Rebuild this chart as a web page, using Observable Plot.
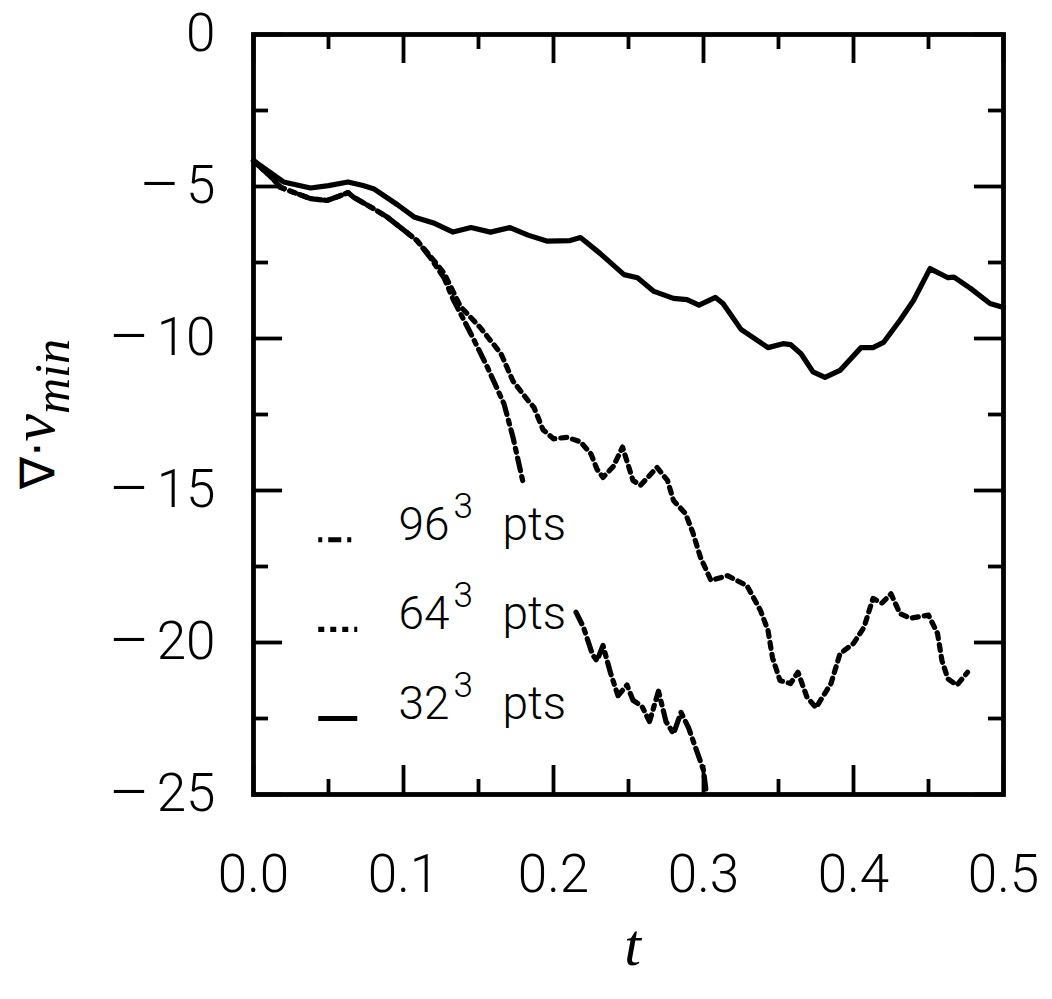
<!DOCTYPE html>
<html>
<head>
<meta charset="utf-8">
<script src="https://cdn.jsdelivr.net/npm/d3@7"></script>
<script src="https://cdn.jsdelivr.net/npm/@observablehq/plot@0.6"></script>
<style>
  html, body { margin: 0; padding: 0; background: #fff; }
  #chart svg { display: block; }
</style>
</head>
<body>
<div id="chart"></div>
<script>
// ---------- data ----------
// 32^3 pts (solid)
const t32 = [0.000, 0.020, 0.038, 0.050, 0.063, 0.073, 0.080, 0.096, 0.107, 0.120, 0.133, 0.145, 0.158, 0.171, 0.183, 0.196, 0.211, 0.218, 0.231, 0.247, 0.256, 0.267, 0.280, 0.289, 0.297, 0.308, 0.313, 0.325, 0.343, 0.353, 0.358, 0.365, 0.373, 0.381, 0.391, 0.405, 0.413, 0.420, 0.431, 0.440, 0.451, 0.463, 0.467, 0.478, 0.491, 0.500];
const v32 = [-4.15, -4.85, -5.05, -4.97, -4.85, -4.97, -5.07, -5.6, -6.0, -6.2, -6.5, -6.35, -6.5, -6.35, -6.6, -6.8, -6.78, -6.68, -7.2, -7.9, -8.0, -8.45, -8.68, -8.72, -8.9, -8.65, -8.85, -9.7, -10.3, -10.17, -10.2, -10.5, -11.1, -11.28, -11.05, -10.3, -10.3, -10.13, -9.4, -8.75, -7.7, -8.0, -7.98, -8.35, -8.85, -8.98];

// 64^3 pts (dotted)
const t64 = [0.000, 0.013, 0.018, 0.025, 0.038, 0.049, 0.058, 0.063, 0.067, 0.080, 0.089, 0.098, 0.109, 0.118, 0.127, 0.138, 0.151, 0.165, 0.173, 0.183, 0.187, 0.193, 0.200, 0.209, 0.218, 0.225, 0.229, 0.233, 0.240, 0.246, 0.253, 0.258, 0.269, 0.276, 0.280, 0.288, 0.293, 0.298, 0.305, 0.316, 0.329, 0.338, 0.343, 0.346, 0.351, 0.358, 0.363, 0.369, 0.375, 0.385, 0.391, 0.400, 0.407, 0.413, 0.419, 0.425, 0.431, 0.438, 0.450, 0.456, 0.459, 0.463, 0.469, 0.476];
const v64 = [-4.15, -4.75, -5.03, -5.16, -5.4, -5.46, -5.3, -5.2, -5.36, -5.73, -6.0, -6.35, -6.78, -7.3, -7.85, -8.95, -9.63, -10.5, -11.4, -12.04, -12.27, -13.0, -13.3, -13.25, -13.4, -13.8, -14.3, -14.57, -14.2, -13.57, -14.67, -14.83, -14.24, -14.67, -15.33, -15.76, -16.4, -17.2, -17.96, -17.8, -18.13, -18.95, -19.6, -20.5, -21.25, -21.35, -20.98, -21.8, -22.14, -21.35, -20.37, -20.03, -19.5, -18.55, -18.7, -18.4, -19.05, -19.2, -19.1, -19.7, -20.6, -21.2, -21.4, -20.98];

// 96^3 pts (dash-dot), two pieces with a gap between them
const t96a = [0.000, 0.013, 0.018, 0.025, 0.038, 0.049, 0.058, 0.063, 0.067, 0.080, 0.089, 0.098, 0.109, 0.118, 0.127, 0.133, 0.145, 0.156, 0.167, 0.173, 0.180];
const v96a = [-4.15, -4.75, -5.03, -5.16, -5.4, -5.46, -5.3, -5.2, -5.36, -5.73, -6.0, -6.35, -6.78, -7.35, -8.0, -8.7, -9.85, -10.95, -12.15, -13.25, -14.8];
const t96b = [0.215, 0.220, 0.226, 0.229, 0.233, 0.238, 0.243, 0.249, 0.253, 0.259, 0.264, 0.270, 0.275, 0.280, 0.285, 0.290, 0.295, 0.300, 0.302];
const v96b = [-19.0, -19.5, -20.4, -20.6, -20.1, -21.0, -21.75, -21.4, -21.9, -22.1, -22.6, -21.6, -22.6, -23.0, -22.3, -22.8, -23.5, -24.2, -25.0];

// ticks and labels
const xMajor = [0, 0.1, 0.2, 0.3, 0.4, 0.5];
const xMinor = [0.05, 0.15, 0.25, 0.35, 0.45];
const xTickLabels = ["0.0", "0.1", "0.2", "0.3", "0.4", "0.5"];
const yMajor = [0, -5, -10, -15, -20, -25];
const yMinor = [-2.5, -7.5, -12.5, -17.5, -22.5];
const yTickDigits = ["0", "5", "10", "15", "20", "25"];
const yTickSigns = ["", "\u2013", "\u2013", "\u2013", "\u2013", "\u2013"];
const legendNames = ["96", "64", "32"];
const legendSup = ["3", "3", "3"];
const legendUnit = ["pts", "pts", "pts"];

// ---------- build tables ----------
const d32 = t32.map((t, i) => ({t, v: v32[i]}));
const d64 = t64.map((t, i) => ({t, v: v64[i]}));
const d96 = [
  ...t96a.map((t, i) => ({t, v: v96a[i], seg: "a"})),
  ...t96b.map((t, i) => ({t, v: v96b[i], seg: "b"}))
];
const yLabelRows = yMajor.map((v, i) => ({v, digits: yTickDigits[i], sign: yTickSigns[i]}));

// ---------- layout ----------
const W = 1052, H = 999;
const mL = 253, mR = 49, mT = 34, mB = 205;
const plotW = W - mL - mR, plotH = H - mT - mB;
const majorLen = 29, minorLen = 15;
const FONT = "Roboto, 'Liberation Sans', sans-serif";
const digitW = 30.5;

const dash96 = "13,6,4,6";
const dash64 = "6,6";

// legend rows (vertical positions in data units, x in data units)
const legendY = [-16.62, -19.57, -22.5];
const legendStyles = [dash96, dash64, null];
const legendOffsets = [19, 0, 0];
const legX1 = 0.0435, legX2 = 0.0695, legTextX = 0.0967;
const legendRows = legendNames.map((n, i) => ({n, s: legendSup[i], u: legendUnit[i], y: legendY[i], dash: legendStyles[i], off: legendOffsets[i]}));

const SW = 5.2;
const lineOpts = {x: "t", y: "v", stroke: "#000", strokeWidth: SW, strokeLinejoin: "round"};

const plot = Plot.plot({
  width: W, height: H,
  marginLeft: mL, marginRight: mR, marginTop: mT, marginBottom: mB,
  style: {fontFamily: FONT, fontWeight: 300, background: "#fff", color: "#000"},
  x: {domain: [0, 0.5], axis: null},
  y: {domain: [-25, 0], axis: null},
  marks: [
    // curves
    Plot.line(d32, {...lineOpts}),
    Plot.line(d64, {...lineOpts, strokeDasharray: dash64}),
    Plot.line(d96, {...lineOpts, z: "seg", strokeDasharray: dash96}),
    // legend samples
    ...legendRows.map(r => Plot.ruleY([r.y], {x1: legX1, x2: legX2, stroke: "#000", strokeWidth: SW, strokeDasharray: r.dash || null, strokeDashoffset: r.off})),
    Plot.text(legendRows, {x: () => legTextX, y: "y", text: "n", textAnchor: "start", lineAnchor: "bottom", fontSize: 46, fontWeight: 300}),
    Plot.text(legendRows, {x: () => legTextX, y: "y", text: "s", textAnchor: "start", lineAnchor: "bottom", dx: 55, dy: -22, fontSize: 35, fontWeight: 300}),
    Plot.text(legendRows, {x: () => legTextX, y: "y", text: "u", textAnchor: "start", lineAnchor: "bottom", dx: 104, fontSize: 46, fontWeight: 300}),
    // inward ticks, all four sides
    Plot.tickX(xMajor, {x: d => d, insetTop: plotH - majorLen, strokeWidth: 3.8}),
    Plot.tickX(xMajor, {x: d => d, insetBottom: plotH - majorLen, strokeWidth: 3.8}),
    Plot.tickX(xMinor, {x: d => d, insetTop: plotH - minorLen, strokeWidth: 3.8}),
    Plot.tickX(xMinor, {x: d => d, insetBottom: plotH - minorLen, strokeWidth: 3.8}),
    Plot.tickY(yMajor, {y: d => d, insetRight: plotW - majorLen, strokeWidth: 3.8}),
    Plot.tickY(yMajor, {y: d => d, insetLeft: plotW - majorLen, strokeWidth: 3.8}),
    Plot.tickY(yMinor, {y: d => d, insetRight: plotW - minorLen, strokeWidth: 3.8}),
    Plot.tickY(yMinor, {y: d => d, insetLeft: plotW - minorLen, strokeWidth: 3.8}),
    Plot.frame({stroke: "#000", strokeWidth: 4.8}),
    // tick labels
    Plot.text(xMajor, {x: d => d, frameAnchor: "bottom", text: (d, i) => xTickLabels[i], lineAnchor: "top", dy: 60, fontSize: 53, fontWeight: 300}),
    Plot.text(yLabelRows, {y: "v", frameAnchor: "left", text: "digits", textAnchor: "end", dx: -38, fontSize: 53, fontWeight: 300}),
    ...yLabelRows.filter(r => r.sign).map(r => Plot.text([r], {y: "v", frameAnchor: "left", text: "sign", textAnchor: "end", dx: -38 - r.digits.length * digitW - 5, fontSize: 62, fontWeight: 300})),
    // x axis title
    Plot.text(["t"], {frameAnchor: "bottom", dx: 4, dy: 170, text: d => d, fontSize: 60, fontStyle: "italic", fontFamily: "'Liberation Serif', serif", fontWeight: 400})
  ]
});

// y axis title with subscript
const svg = d3.select(plot);
const yl = svg.append("text")
  .attr("transform", "translate(54,414) rotate(-90)")
  .attr("text-anchor", "middle")
  .attr("fill", "#000")
  .attr("font-size", 62)
  .style("font-weight", 400);
yl.append("tspan").attr("font-family", "'DejaVu Sans', sans-serif").attr("font-size", 48).text("\u2207\u00b7");
yl.append("tspan").attr("font-family", "'Liberation Serif', serif").attr("font-style", "italic").text("v");
yl.append("tspan").attr("font-family", "'Liberation Serif', serif").attr("font-style", "italic").attr("font-size", 50).attr("dy", 15).text("min");

document.getElementById("chart").appendChild(plot);
</script>
</body>
</html>
